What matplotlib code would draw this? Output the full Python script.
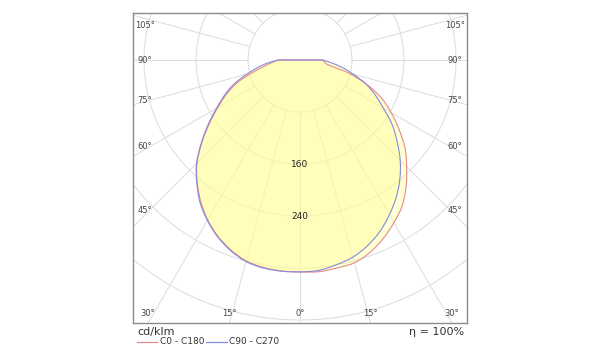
import numpy as np
import matplotlib
matplotlib.use("Agg")
import matplotlib.pyplot as plt
from matplotlib.lines import Line2D
from matplotlib.path import Path
from matplotlib.patches import PathPatch

# gamma angles (from nadir) and intensities in cd/klm
ANGLES = [0, 5, 10, 15, 20, 25, 30, 35, 40, 45, 50, 55, 60, 65, 70, 75, 80, 85, 90]
C0 = [327, 327, 325, 323, 315, 303, 289, 274, 254, 232, 211, 186, 162, 138, 109, 77, 45, 38, 35]
C180 = [326, 326, 324, 320, 311, 299, 284, 266, 246, 224, 197, 170, 146, 125, 103, 77, 56, 43, 34]
C90 = [326, 325, 320, 314, 304, 291, 275, 258, 239, 218, 195, 173, 148, 128, 108, 85, 66, 48, 35]
C270 = [326, 326, 325, 321, 312, 300, 285, 268, 247, 225, 198, 172, 148, 128, 108, 85, 66, 49, 33]

RING_VALUES = [80, 160, 240, 320, 400, 480]
RING_LABELS = [160, 240]
SIDE_LABELS = [45, 60, 75, 90, 105]
BOTTOM_LABELS = [0, 15, 30]
LEGEND = ["C0 - C180", "C90 - C270"]
ETA = "η = 100%"
UNIT = "cd/klm"

RED = "#E58A8A"
BLUE = "#8888DD"
FILL = "#FFFF99"
GRID = "#DCDCDC"
TXT = "#444444"

W, H = 600, 360
fig = plt.figure(figsize=(6, 3.6), dpi=100)

# axes box in pixels: x 133..467, y 13..323 (from top); 0.65 px per cd/klm
SCALE = 0.65
ax = fig.add_axes([133 / W, 1 - 323 / H, 334 / W, 310 / H])
XLIM = 167 / SCALE
YTOP = 47 / SCALE
YBOT = -263 / SCALE
ax.set_xlim(-XLIM, XLIM)
ax.set_ylim(YBOT, YTOP)
ax.set_xticks([])
ax.set_yticks([])
for s in ax.spines.values():
    s.set_color("#8C8C8C")
    s.set_linewidth(1.0)

# grid: rings and radial lines
t = np.linspace(0, 2 * np.pi, 400)
for r in RING_VALUES:
    ax.plot(r * np.cos(t), r * np.sin(t), color=GRID, lw=0.7, zorder=1)
for a in range(0, 360, 15):
    g = np.radians(a)
    ax.plot([80 * np.sin(g), 700 * np.sin(g)], [-80 * np.cos(g), -700 * np.cos(g)],
            color=GRID, lw=0.7, zorder=1)


def curve_path(left, right):
    # polar -> cartesian, left half mirrored, then smooth bezier through points
    gam = np.radians(ANGLES)
    L = np.array(left, dtype=float)
    R = np.array(right, dtype=float)
    x = np.concatenate([-(L * np.sin(gam))[::-1], (R * np.sin(gam))[1:]])
    y = np.concatenate([-(L * np.cos(gam))[::-1], -(R * np.cos(gam))[1:]])
    P = np.column_stack([x, y])
    n = len(P)
    verts = [P[0]]
    codes = [Path.MOVETO]
    for i in range(n - 1):
        p0 = P[max(i - 1, 0)]
        p1, p2 = P[i], P[i + 1]
        p3 = P[min(i + 2, n - 1)]
        verts += [p1 + (p2 - p0) / 6, p2 - (p3 - p1) / 6, p2]
        codes += [Path.CURVE4] * 3
    verts += [P[0], P[0]]
    codes += [Path.LINETO, Path.CLOSEPOLY]
    return Path(verts, codes)


for left, right, col in [(C180, C0, RED), (C270, C90, BLUE)]:
    p = curve_path(left, right)
    ax.add_patch(PathPatch(p, facecolor=FILL, alpha=0.42, lw=0, zorder=2))
    ax.add_patch(PathPatch(p, facecolor="none", edgecolor=col, lw=0.8, zorder=3))

for v in RING_LABELS:
    ax.text(0, -v, str(v), ha="center", va="center", fontsize=6.5, color="#222222", zorder=4)

# angle labels near the box edges
side_x = 155 / SCALE
bot_y = -253 / SCALE
for a in SIDE_LABELS:
    g = np.radians(a)
    y = -XLIM * np.cos(g) / np.sin(g) * 0.9
    y = min(y, 35 / SCALE)
    for sgn in (-1, 1):
        ax.text(sgn * side_x, y, f"{a}°", ha="center", va="center", fontsize=6, color=TXT)
for a in BOTTOM_LABELS:
    g = np.radians(a)
    x = -YBOT * np.tan(g)
    for sgn in ((-1, 1) if a else (1,)):
        ax.text(sgn * x, bot_y, f"{a}°", ha="center", va="center", fontsize=6, color=TXT)


def px(x, y):
    return x / W, 1 - y / H


fig.text(*px(137, 332), UNIT, ha="left", va="center", fontsize=8, color="#333333")
fig.text(*px(464, 332), ETA, ha="right", va="center", fontsize=8, color="#333333")

for (x0, x1, xt), lab, col in zip([(137, 157, 160), (206, 227, 229)], LEGEND, [RED, BLUE]):
    fig.add_artist(Line2D([x0 / W, x1 / W], [1 - 342 / H] * 2, color=col, lw=0.9))
    fig.text(*px(xt, 342), lab, ha="left", va="center", fontsize=6.5, color="#333333")

fig.savefig("out.png", dpi=100)
